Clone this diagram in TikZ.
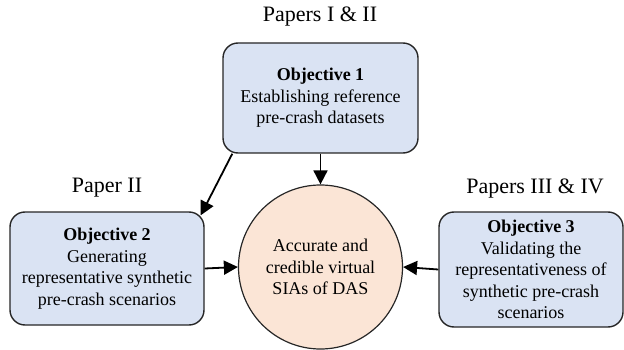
\documentclass[tikz,border=0pt]{standalone}
\usepackage{fontspec}
\setmainfont{Liberation Serif}
\usetikzlibrary{positioning}
\usetikzlibrary{arrows.meta}
\usetikzlibrary{calc}

\definecolor{objblue}{HTML}{DAE3F3}
\definecolor{goalpeach}{HTML}{FBE5D6}

\tikzset{
  objbox/.style={draw=black!85, line width=1.4pt, fill=objblue, rounded corners=15pt,
    align=center, inner sep=0pt, font=\fontsize{18}{21.5}\selectfont},
  goal/.style={circle, draw=black!85, line width=1.2pt, fill=goalpeach, align=center,
    minimum size=164pt, inner sep=0pt, font=\fontsize{18}{21.5}\selectfont},
  link/.style={-{Triangle[length=14pt,width=14pt]}, line width=1.8pt},
  paper/.style={font=\fontsize{22}{26}\selectfont}
}

\begin{document}
\begin{tikzpicture}[x=1pt, y=-1pt]
  \useasboundingbox (0, 0) rectangle (624, 350);

  % objectives
  \node [objbox, minimum width=195pt, minimum height=110pt] (obj1) at (320.5, 98)
    {\textbf{Objective 1}\\Establishing reference\\pre-crash datasets};
  \node [objbox, minimum width=194pt, minimum height=113pt] (obj2) at (107, 268.5)
    {\textbf{Objective 2}\\Generating\\representative synthetic\\pre-crash scenarios};
  \node [objbox, minimum width=184pt, minimum height=115pt] (obj3) at (531, 269.5)
    {\textbf{Objective 3}\\Validating the\\representativeness of\\synthetic pre-crash\\scenarios};

  % goal
  \node [goal] (goal) at (320.5, 267)
    {Accurate and\\credible virtual\\SIAs of DAS};

  % papers
  \node [paper] (p1) at (320, 17) {Papers I \& II};
  \node [paper] (p2) at (107, 188) {Paper II};
  \node [paper] (p3) at (535, 189) {Papers III \& IV};

  % links
  \draw [link] (obj1.south) -- (goal.north);
  \draw [link] ($(obj1.south west)+(10, 0)$) -- ($(obj2.north east)+(-4, 4)$);
  \draw [link] (obj2.east) -- (goal.west);
  \draw [link] (obj3.west) -- (goal.east);
\end{tikzpicture}
\end{document}
